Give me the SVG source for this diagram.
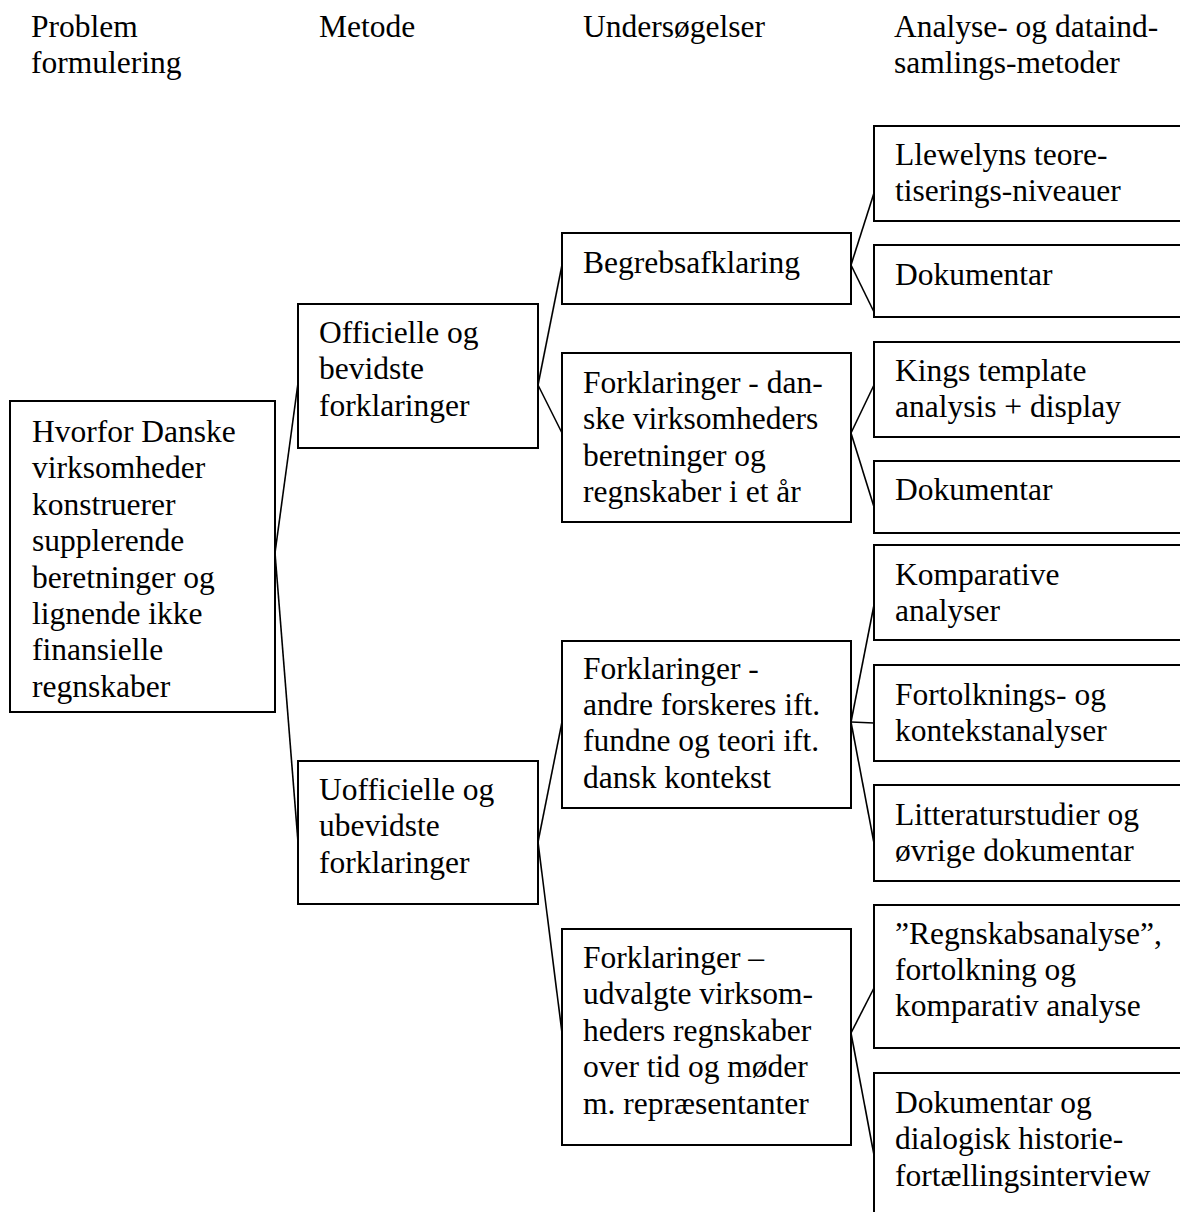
<svg xmlns="http://www.w3.org/2000/svg" width="1180" height="1212" viewBox="0 0 1180 1212">
<style>
.box{fill:#fff;stroke:#000;stroke-width:2}
.t{font-family:"Liberation Serif","Times New Roman",serif;font-size:31.5px;fill:#000}
.c line{stroke:#000;stroke-width:1.6}
</style>
<rect width="1180" height="1212" fill="#fff"/>
<g id="headers" class="t">
<text x="31" y="37">Problem</text>
<text x="31" y="73">formulering</text>
<text x="319" y="37">Metode</text>
<text x="583" y="37">Undersøgelser</text>
<text x="894" y="37">Analyse- og dataind-</text>
<text x="894" y="73">samlings-metoder</text>
</g>
<g id="connectors" class="c">
<line x1="275" y1="553" x2="298" y2="383"/>
<line x1="275" y1="553" x2="298" y2="842"/>
<line x1="538" y1="385" x2="562" y2="265"/>
<line x1="538" y1="385" x2="562" y2="433"/>
<line x1="538" y1="842" x2="562" y2="722"/>
<line x1="538" y1="842" x2="562" y2="1033"/>
<line x1="851" y1="265" x2="874" y2="193"/>
<line x1="851" y1="265" x2="874" y2="312"/>
<line x1="851" y1="433" x2="874" y2="385"/>
<line x1="851" y1="433" x2="874" y2="507"/>
<line x1="851" y1="722" x2="874" y2="605"/>
<line x1="851" y1="722" x2="874" y2="723"/>
<line x1="851" y1="722" x2="874" y2="843"/>
<line x1="851" y1="1033" x2="874" y2="988"/>
<line x1="851" y1="1033" x2="874" y2="1155"/>
</g>
<g id="root">
<rect class="box" x="10" y="401" width="265" height="311"/>
<text class="t" x="32" y="442">Hvorfor Danske</text>
<text class="t" x="32" y="478.4">virksomheder</text>
<text class="t" x="32" y="514.8">konstruerer</text>
<text class="t" x="32" y="551.2">supplerende</text>
<text class="t" x="32" y="587.6">beretninger og</text>
<text class="t" x="32" y="624">lignende ikke</text>
<text class="t" x="32" y="660.4">finansielle</text>
<text class="t" x="32" y="696.8">regnskaber</text>
</g>
<g id="officielle">
<rect class="box" x="298" y="304" width="240" height="144"/>
<text class="t" x="319" y="343">Officielle og</text>
<text class="t" x="319" y="379.4">bevidste</text>
<text class="t" x="319" y="415.8">forklaringer</text>
</g>
<g id="uofficielle">
<rect class="box" x="298" y="761" width="240" height="143"/>
<text class="t" x="319" y="800">Uofficielle og</text>
<text class="t" x="319" y="836.4">ubevidste</text>
<text class="t" x="319" y="872.8">forklaringer</text>
</g>
<g id="begreb">
<rect class="box" x="562" y="233" width="289" height="71"/>
<text class="t" x="583" y="273">Begrebsafklaring</text>
</g>
<g id="fork-danske">
<rect class="box" x="562" y="353" width="289" height="169"/>
<text class="t" x="583" y="393">Forklaringer - dan-</text>
<text class="t" x="583" y="429.4">ske virksomheders</text>
<text class="t" x="583" y="465.8">beretninger og</text>
<text class="t" x="583" y="502.2">regnskaber i et år</text>
</g>
<g id="fork-andre">
<rect class="box" x="562" y="641" width="289" height="167"/>
<text class="t" x="583" y="678.5">Forklaringer -</text>
<text class="t" x="583" y="714.9">andre forskeres ift.</text>
<text class="t" x="583" y="751.3">fundne og teori ift.</text>
<text class="t" x="583" y="787.7">dansk kontekst</text>
</g>
<g id="fork-udvalgte">
<rect class="box" x="562" y="929" width="289" height="216"/>
<text class="t" x="583" y="968">Forklaringer –</text>
<text class="t" x="583" y="1004.4">udvalgte virksom-</text>
<text class="t" x="583" y="1040.8">heders regnskaber</text>
<text class="t" x="583" y="1077.2">over tid og møder</text>
<text class="t" x="583" y="1113.6">m. repræsentanter</text>
</g>
<g id="llewelyn">
<rect class="box" x="874" y="126" width="320" height="95"/>
<text class="t" x="895" y="165">Llewelyns teore-</text>
<text class="t" x="895" y="201.4">tiserings-niveauer</text>
</g>
<g id="dok1">
<rect class="box" x="874" y="245" width="320" height="72"/>
<text class="t" x="895" y="285">Dokumentar</text>
</g>
<g id="kings">
<rect class="box" x="874" y="342" width="320" height="95"/>
<text class="t" x="895" y="380.5">Kings template</text>
<text class="t" x="895" y="416.9">analysis + display</text>
</g>
<g id="dok2">
<rect class="box" x="874" y="461" width="320" height="72"/>
<text class="t" x="895" y="500">Dokumentar</text>
</g>
<g id="komparative">
<rect class="box" x="874" y="545" width="320" height="95"/>
<text class="t" x="895" y="585">Komparative</text>
<text class="t" x="895" y="621.4">analyser</text>
</g>
<g id="fortolknings">
<rect class="box" x="874" y="665" width="320" height="96"/>
<text class="t" x="895" y="705">Fortolknings- og</text>
<text class="t" x="895" y="741.4">kontekstanalyser</text>
</g>
<g id="litteratur">
<rect class="box" x="874" y="785" width="320" height="96"/>
<text class="t" x="895" y="825">Litteraturstudier og</text>
<text class="t" x="895" y="861.4">øvrige dokumentar</text>
</g>
<g id="regnskab">
<rect class="box" x="874" y="905" width="320" height="143"/>
<text class="t" x="895" y="943.5">”Regnskabsanalyse”,</text>
<text class="t" x="895" y="979.9">fortolkning og</text>
<text class="t" x="895" y="1016.3">komparativ analyse</text>
</g>
<g id="dok-dialog">
<rect class="box" x="874" y="1073" width="320" height="160"/>
<text class="t" x="895" y="1113">Dokumentar og</text>
<text class="t" x="895" y="1149.4">dialogisk historie-</text>
<text class="t" x="895" y="1185.8">fortællingsinterview</text>
</g>
</svg>
